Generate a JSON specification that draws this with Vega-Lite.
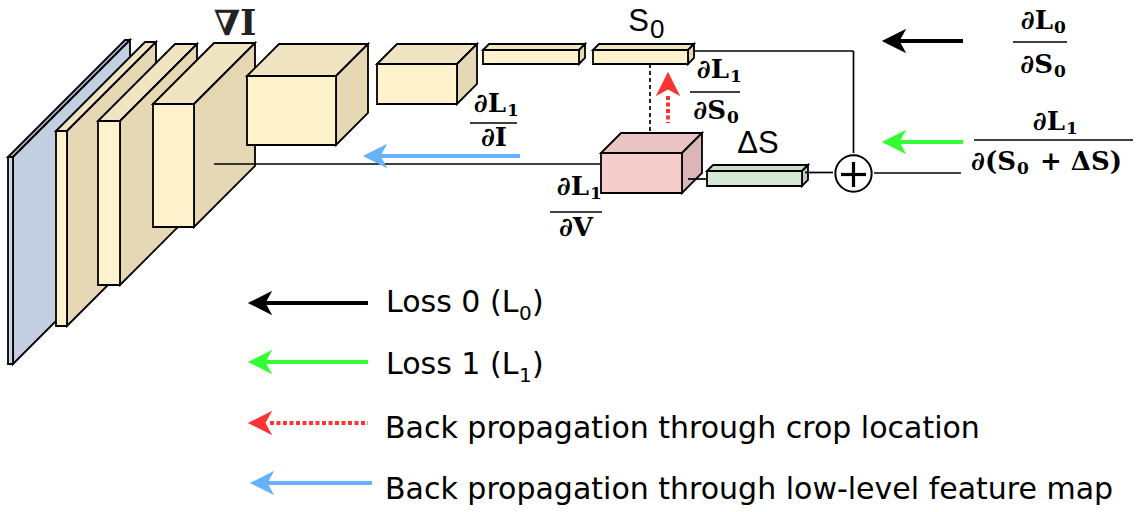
{
  "$schema": "https://vega.github.io/schema/vega-lite/v6.json",
  "width": 1143,
  "height": 512,
  "padding": 0,
  "autosize": {"type": "fit", "contains": "padding"},
  "background": "white",
  "config": {"view": {"stroke": null}},
  "datasets": {
    "faces": [
      {"f": "b01a", "k": "inp_t", "x": 8, "y": 157, "y2": 157},
      {"f": "b01a", "k": "inp_t", "x": 13, "y": 152, "y2": 157},
      {"f": "b01a", "k": "inp_t", "x": 125, "y": 40, "y2": 45},
      {"f": "b01a", "k": "inp_t", "x": 130, "y": 40, "y2": 40},
      {"f": "b01b", "k": "inp_s", "x": 13, "y": 157, "y2": 364},
      {"f": "b01b", "k": "inp_s", "x": 130, "y": 40, "y2": 247},
      {"f": "b01c", "k": "inp_f", "x": 8, "y": 157, "y2": 364},
      {"f": "b01c", "k": "inp_f", "x": 13, "y": 157, "y2": 364},
      {"f": "b02a", "k": "fm_t", "x": 56, "y": 131, "y2": 131},
      {"f": "b02a", "k": "fm_t", "x": 67, "y": 120, "y2": 131},
      {"f": "b02a", "k": "fm_t", "x": 145, "y": 42, "y2": 53},
      {"f": "b02a", "k": "fm_t", "x": 156, "y": 42, "y2": 42},
      {"f": "b02b", "k": "fm_s", "x": 67, "y": 131, "y2": 326},
      {"f": "b02b", "k": "fm_s", "x": 156, "y": 42, "y2": 237},
      {"f": "b02c", "k": "fm_f", "x": 56, "y": 131, "y2": 326},
      {"f": "b02c", "k": "fm_f", "x": 67, "y": 131, "y2": 326},
      {"f": "b03a", "k": "fm_t", "x": 98, "y": 121, "y2": 121},
      {"f": "b03a", "k": "fm_t", "x": 120, "y": 99, "y2": 121},
      {"f": "b03a", "k": "fm_t", "x": 175, "y": 44, "y2": 66},
      {"f": "b03a", "k": "fm_t", "x": 197, "y": 44, "y2": 44},
      {"f": "b03b", "k": "fm_s", "x": 120, "y": 121, "y2": 285},
      {"f": "b03b", "k": "fm_s", "x": 197, "y": 44, "y2": 208},
      {"f": "b03c", "k": "fm_f", "x": 98, "y": 121, "y2": 285},
      {"f": "b03c", "k": "fm_f", "x": 120, "y": 121, "y2": 285},
      {"f": "b04a", "k": "fm_t", "x": 153, "y": 104, "y2": 104},
      {"f": "b04a", "k": "fm_t", "x": 194, "y": 63, "y2": 104},
      {"f": "b04a", "k": "fm_t", "x": 214, "y": 43, "y2": 84},
      {"f": "b04a", "k": "fm_t", "x": 255, "y": 43, "y2": 43},
      {"f": "b04b", "k": "fm_s", "x": 194, "y": 104, "y2": 227},
      {"f": "b04b", "k": "fm_s", "x": 255, "y": 43, "y2": 166},
      {"f": "b04c", "k": "fm_f", "x": 153, "y": 104, "y2": 227},
      {"f": "b04c", "k": "fm_f", "x": 194, "y": 104, "y2": 227},
      {"f": "b05a", "k": "fm_t", "x": 247, "y": 76, "y2": 76},
      {"f": "b05a", "k": "fm_t", "x": 279, "y": 44, "y2": 76},
      {"f": "b05a", "k": "fm_t", "x": 336, "y": 44, "y2": 76},
      {"f": "b05a", "k": "fm_t", "x": 368, "y": 44, "y2": 44},
      {"f": "b05b", "k": "fm_s", "x": 336, "y": 76, "y2": 145},
      {"f": "b05b", "k": "fm_s", "x": 368, "y": 44, "y2": 113},
      {"f": "b05c", "k": "fm_f", "x": 247, "y": 76, "y2": 145},
      {"f": "b05c", "k": "fm_f", "x": 336, "y": 76, "y2": 145},
      {"f": "b06a", "k": "fm_t", "x": 377, "y": 64, "y2": 64},
      {"f": "b06a", "k": "fm_t", "x": 397, "y": 44, "y2": 64},
      {"f": "b06a", "k": "fm_t", "x": 457, "y": 44, "y2": 64},
      {"f": "b06a", "k": "fm_t", "x": 477, "y": 44, "y2": 44},
      {"f": "b06b", "k": "fm_s", "x": 457, "y": 64, "y2": 104},
      {"f": "b06b", "k": "fm_s", "x": 477, "y": 44, "y2": 84},
      {"f": "b06c", "k": "fm_f", "x": 377, "y": 64, "y2": 104},
      {"f": "b06c", "k": "fm_f", "x": 457, "y": 64, "y2": 104},
      {"f": "b07a", "k": "fm_t", "x": 483, "y": 50, "y2": 50},
      {"f": "b07a", "k": "fm_t", "x": 489, "y": 44, "y2": 50},
      {"f": "b07a", "k": "fm_t", "x": 579, "y": 44, "y2": 50},
      {"f": "b07a", "k": "fm_t", "x": 585, "y": 44, "y2": 44},
      {"f": "b07b", "k": "fm_s", "x": 579, "y": 50, "y2": 64},
      {"f": "b07b", "k": "fm_s", "x": 585, "y": 44, "y2": 58},
      {"f": "b07c", "k": "fm_f", "x": 483, "y": 50, "y2": 64},
      {"f": "b07c", "k": "fm_f", "x": 579, "y": 50, "y2": 64},
      {"f": "b08a", "k": "fm_t", "x": 593, "y": 50, "y2": 50},
      {"f": "b08a", "k": "fm_t", "x": 599, "y": 44, "y2": 50},
      {"f": "b08a", "k": "fm_t", "x": 688, "y": 44, "y2": 50},
      {"f": "b08a", "k": "fm_t", "x": 694, "y": 44, "y2": 44},
      {"f": "b08b", "k": "fm_s", "x": 688, "y": 50, "y2": 64},
      {"f": "b08b", "k": "fm_s", "x": 694, "y": 44, "y2": 58},
      {"f": "b08c", "k": "fm_f", "x": 593, "y": 50, "y2": 64},
      {"f": "b08c", "k": "fm_f", "x": 688, "y": 50, "y2": 64},
      {"f": "b09a", "k": "crop_t", "x": 601, "y": 153, "y2": 153},
      {"f": "b09a", "k": "crop_t", "x": 621, "y": 133, "y2": 153},
      {"f": "b09a", "k": "crop_t", "x": 682, "y": 133, "y2": 153},
      {"f": "b09a", "k": "crop_t", "x": 702, "y": 133, "y2": 133},
      {"f": "b09b", "k": "crop_s", "x": 682, "y": 153, "y2": 193},
      {"f": "b09b", "k": "crop_s", "x": 702, "y": 133, "y2": 173},
      {"f": "b09c", "k": "crop_f", "x": 601, "y": 153, "y2": 193},
      {"f": "b09c", "k": "crop_f", "x": 682, "y": 153, "y2": 193},
      {"f": "b10a", "k": "ds_t", "x": 707, "y": 171, "y2": 171},
      {"f": "b10a", "k": "ds_t", "x": 713, "y": 165, "y2": 171},
      {"f": "b10a", "k": "ds_t", "x": 802, "y": 165, "y2": 171},
      {"f": "b10a", "k": "ds_t", "x": 808, "y": 165, "y2": 165},
      {"f": "b10b", "k": "ds_s", "x": 802, "y": 171, "y2": 186},
      {"f": "b10b", "k": "ds_s", "x": 808, "y": 165, "y2": 180},
      {"f": "b10c", "k": "ds_f", "x": 707, "y": 171, "y2": 186},
      {"f": "b10c", "k": "ds_f", "x": 802, "y": 171, "y2": 186}
    ],
    "lines": [
      {"x": 214, "y": 164, "x2": 600, "y2": 164},
      {"x": 688, "y": 179, "x2": 707, "y2": 179},
      {"x": 805, "y": 172.5, "x2": 833, "y2": 172.5},
      {"x": 874, "y": 173, "x2": 961, "y2": 173},
      {"x": 694, "y": 51, "x2": 853.5, "y2": 51},
      {"x": 853.5, "y": 51, "x2": 853.5, "y2": 153}
    ],
    "dashed": [
      {"x": 650, "y": 64, "x2": 650, "y2": 133}
    ],
    "bars": [
      {"x": 470, "y": 123, "x2": 517, "y2": 123},
      {"x": 550, "y": 212, "x2": 602, "y2": 212},
      {"x": 690, "y": 92, "x2": 740, "y2": 92},
      {"x": 1013, "y": 42, "x2": 1067, "y2": 42},
      {"x": 974, "y": 140, "x2": 1133, "y2": 140}
    ],
    "plus": [
      {"x": 841, "y": 174.5, "x2": 866, "y2": 174.5},
      {"x": 853.5, "y": 162, "x2": 853.5, "y2": 187}
    ],
    "shafts": [
      {"c": "b", "x": 378, "y": 156, "x2": 520, "y2": 156},
      {"c": "k", "x": 897, "y": 41, "x2": 963, "y2": 41},
      {"c": "g", "x": 897, "y": 142, "x2": 963, "y2": 142},
      {"c": "k", "x": 262, "y": 303, "x2": 368, "y2": 303},
      {"c": "g", "x": 262, "y": 362, "x2": 368, "y2": 362},
      {"c": "b", "x": 264, "y": 483, "x2": 372, "y2": 483}
    ],
    "dotted": [
      {"c": "r", "x": 270, "y": 423, "x2": 368, "y2": 423},
      {"c": "r", "x": 668, "y": 96, "x2": 668, "y2": 123}
    ],
    "heads": [
      {"c": "b", "dir": "left", "x": 375, "y": 156},
      {"c": "k", "dir": "left", "x": 894, "y": 41},
      {"c": "g", "dir": "left", "x": 894, "y": 142},
      {"c": "k", "dir": "left", "x": 260, "y": 303},
      {"c": "g", "dir": "left", "x": 260, "y": 362},
      {"c": "r", "dir": "left", "x": 260, "y": 423},
      {"c": "b", "dir": "left", "x": 262, "y": 483},
      {"c": "r", "dir": "up", "x": 668, "y": 84}
    ],
    "circle": [
      {"x": 853.5, "y": 173.5}
    ],
    "legendText": [
      {"t": "Loss 0 (L", "x": 386, "y": 312},
      {"t": ")", "x": 532, "y": 312},
      {"t": "Loss 1 (L", "x": 386, "y": 374},
      {"t": ")", "x": 532, "y": 374},
      {"t": "Back propagation through crop location", "x": 385, "y": 438},
      {"t": "Back propagation through low-level feature map", "x": 385, "y": 499}
    ],
    "legendSub": [
      {"t": "0", "x": 519, "y": 320},
      {"t": "1", "x": 519, "y": 382}
    ],
    "mathRight": [
      {"t": "∂L", "x": 506, "y": 112},
      {"t": "∂L", "x": 589, "y": 195},
      {"t": "∂L", "x": 729, "y": 78},
      {"t": "∂S", "x": 726, "y": 119},
      {"t": "∂L", "x": 1053, "y": 29},
      {"t": "∂S", "x": 1053, "y": 73},
      {"t": "∂L", "x": 1065, "y": 130},
      {"t": "∂(S", "x": 1016, "y": 170}
    ],
    "mathSub": [
      {"t": "1", "x": 507, "y": 116},
      {"t": "1", "x": 590, "y": 199},
      {"t": "1", "x": 730, "y": 82},
      {"t": "0", "x": 727, "y": 123},
      {"t": "0", "x": 1054, "y": 33},
      {"t": "0", "x": 1054, "y": 77},
      {"t": "1", "x": 1066, "y": 134},
      {"t": "0", "x": 1017, "y": 174}
    ],
    "mathCenter": [
      {"t": "∂I", "x": 494, "y": 146},
      {"t": "∂V", "x": 576, "y": 236}
    ],
    "mathLeft": [
      {"t": "+ ΔS)", "x": 1040, "y": 170}
    ],
    "nabla": [
      {"t": "∇I", "x": 235, "y": 35}
    ],
    "sLabel": [
      {"t": "S", "x": 649, "y": 31}
    ],
    "sSub": [
      {"t": "0", "x": 650, "y": 38}
    ],
    "dsLabel": [
      {"t": "ΔS", "x": 758, "y": 153}
    ]
  },
  "encoding": {
    "x": {"field": "x", "type": "quantitative", "scale": {"domain": [0, 1143], "nice": false, "zero": false}, "axis": null},
    "y": {"field": "y", "type": "quantitative", "scale": {"domain": [0, 512], "reverse": true, "nice": false, "zero": false}, "axis": null}
  },
  "layer": [
    {
      "data": {"name": "faces"},
      "mark": {"type": "area", "stroke": "black", "strokeWidth": 1.8, "opacity": 1, "fillOpacity": 1, "interpolate": "linear"},
      "encoding": {
        "y": {"field": "y", "type": "quantitative", "stack": null, "scale": {"domain": [0, 512], "reverse": true, "nice": false, "zero": false}, "axis": null},
        "y2": {"field": "y2"},
        "detail": {"field": "f", "type": "nominal"},
        "color": {
          "field": "k", "type": "nominal", "legend": null,
          "scale": {
            "domain": ["inp_t","inp_s","inp_f","fm_t","fm_s","fm_f","crop_t","crop_s","crop_f","ds_t","ds_s","ds_f","k","g","r","b"],
            "range": ["#b3c3d7","#c2cfe0","#cbd7e6","#f1e4c0","#e6d8b4","#fff2cc","#eac3c3","#dcb6b6","#f5cdcd","#c9dcc8","#bdd0bc","#d5e8d4","#000000","#33ff33","#ff3333","#66b2ff"]
          }
        }
      }
    },
    {
      "data": {"name": "lines"},
      "mark": {"type": "rule", "color": "black", "strokeWidth": 1.7},
      "encoding": {"x2": {"field": "x2"}, "y2": {"field": "y2"}}
    },
    {
      "data": {"name": "dashed"},
      "mark": {"type": "rule", "color": "black", "strokeWidth": 1.7, "strokeDash": [4, 3]},
      "encoding": {"x2": {"field": "x2"}, "y2": {"field": "y2"}}
    },
    {
      "data": {"name": "bars"},
      "mark": {"type": "rule", "color": "black", "strokeWidth": 1.3},
      "encoding": {"x2": {"field": "x2"}, "y2": {"field": "y2"}}
    },
    {
      "data": {"name": "shafts"},
      "mark": {"type": "rule", "strokeWidth": 4, "opacity": 1},
      "encoding": {
        "x2": {"field": "x2"}, "y2": {"field": "y2"},
        "color": {
          "field": "c", "type": "nominal", "legend": null,
          "scale": {
            "domain": ["inp_t","inp_s","inp_f","fm_t","fm_s","fm_f","crop_t","crop_s","crop_f","ds_t","ds_s","ds_f","k","g","r","b"],
            "range": ["#b3c3d7","#c2cfe0","#cbd7e6","#f1e4c0","#e6d8b4","#fff2cc","#eac3c3","#dcb6b6","#f5cdcd","#c9dcc8","#bdd0bc","#d5e8d4","#000000","#33ff33","#ff3333","#66b2ff"]
          }
        }
      }
    },
    {
      "data": {"name": "dotted"},
      "mark": {"type": "rule", "strokeWidth": 4, "strokeDash": [4, 2.5], "opacity": 1},
      "encoding": {
        "x2": {"field": "x2"}, "y2": {"field": "y2"},
        "color": {
          "field": "c", "type": "nominal", "legend": null,
          "scale": {
            "domain": ["inp_t","inp_s","inp_f","fm_t","fm_s","fm_f","crop_t","crop_s","crop_f","ds_t","ds_s","ds_f","k","g","r","b"],
            "range": ["#b3c3d7","#c2cfe0","#cbd7e6","#f1e4c0","#e6d8b4","#fff2cc","#eac3c3","#dcb6b6","#f5cdcd","#c9dcc8","#bdd0bc","#d5e8d4","#000000","#33ff33","#ff3333","#66b2ff"]
          }
        }
      }
    },
    {
      "data": {"name": "heads"},
      "mark": {"type": "point", "filled": true, "opacity": 1, "strokeWidth": 0, "size": 600},
      "encoding": {
        "shape": {
          "field": "dir", "type": "nominal", "legend": null,
          "scale": {"domain": ["left", "up"], "range": ["M-1,0L1,-1L0.45,0L1,1Z", "M0,-1L1,1L0,0.45L-1,1Z"]}
        },
        "color": {
          "field": "c", "type": "nominal", "legend": null,
          "scale": {
            "domain": ["inp_t","inp_s","inp_f","fm_t","fm_s","fm_f","crop_t","crop_s","crop_f","ds_t","ds_s","ds_f","k","g","r","b"],
            "range": ["#b3c3d7","#c2cfe0","#cbd7e6","#f1e4c0","#e6d8b4","#fff2cc","#eac3c3","#dcb6b6","#f5cdcd","#c9dcc8","#bdd0bc","#d5e8d4","#000000","#33ff33","#ff3333","#66b2ff"]
          }
        }
      }
    },
    {
      "data": {"name": "circle"},
      "mark": {"type": "point", "shape": "circle", "size": 1320, "filled": true, "fill": "white", "stroke": "black", "strokeWidth": 2, "opacity": 1}
    },
    {
      "data": {"name": "plus"},
      "mark": {"type": "rule", "color": "black", "strokeWidth": 3.2},
      "encoding": {"x2": {"field": "x2"}, "y2": {"field": "y2"}}
    },
    {
      "data": {"name": "legendText"},
      "mark": {"type": "text", "font": "DejaVu Sans", "fontSize": 30, "align": "left", "baseline": "alphabetic", "color": "black"},
      "encoding": {"text": {"field": "t"}}
    },
    {
      "data": {"name": "legendSub"},
      "mark": {"type": "text", "font": "DejaVu Sans", "fontSize": 20, "align": "left", "baseline": "alphabetic", "color": "black"},
      "encoding": {"text": {"field": "t"}}
    },
    {
      "data": {"name": "mathRight"},
      "mark": {"type": "text", "font": "DejaVu Serif", "fontWeight": "bold", "fontSize": 26, "align": "right", "baseline": "alphabetic", "color": "black"},
      "encoding": {"text": {"field": "t"}}
    },
    {
      "data": {"name": "mathSub"},
      "mark": {"type": "text", "font": "DejaVu Serif", "fontWeight": "bold", "fontSize": 17, "align": "left", "baseline": "alphabetic", "color": "black"},
      "encoding": {"text": {"field": "t"}}
    },
    {
      "data": {"name": "mathCenter"},
      "mark": {"type": "text", "font": "DejaVu Serif", "fontWeight": "bold", "fontSize": 26, "align": "center", "baseline": "alphabetic", "color": "black"},
      "encoding": {"text": {"field": "t"}}
    },
    {
      "data": {"name": "mathLeft"},
      "mark": {"type": "text", "font": "DejaVu Serif", "fontWeight": "bold", "fontSize": 26, "align": "left", "baseline": "alphabetic", "color": "black"},
      "encoding": {"text": {"field": "t"}}
    },
    {
      "data": {"name": "nabla"},
      "mark": {"type": "text", "font": "DejaVu Serif", "fontWeight": "bold", "fontSize": 35, "align": "center", "baseline": "alphabetic", "color": "#222222"},
      "encoding": {"text": {"field": "t"}}
    },
    {
      "data": {"name": "sLabel"},
      "mark": {"type": "text", "font": "Liberation Sans", "fontSize": 31, "align": "right", "baseline": "alphabetic", "color": "black"},
      "encoding": {"text": {"field": "t"}}
    },
    {
      "data": {"name": "sSub"},
      "mark": {"type": "text", "font": "Liberation Sans", "fontSize": 26, "align": "left", "baseline": "alphabetic", "color": "black"},
      "encoding": {"text": {"field": "t"}}
    },
    {
      "data": {"name": "dsLabel"},
      "mark": {"type": "text", "font": "Liberation Sans", "fontSize": 31, "align": "center", "baseline": "alphabetic", "color": "black"},
      "encoding": {"text": {"field": "t"}}
    }
  ]
}
